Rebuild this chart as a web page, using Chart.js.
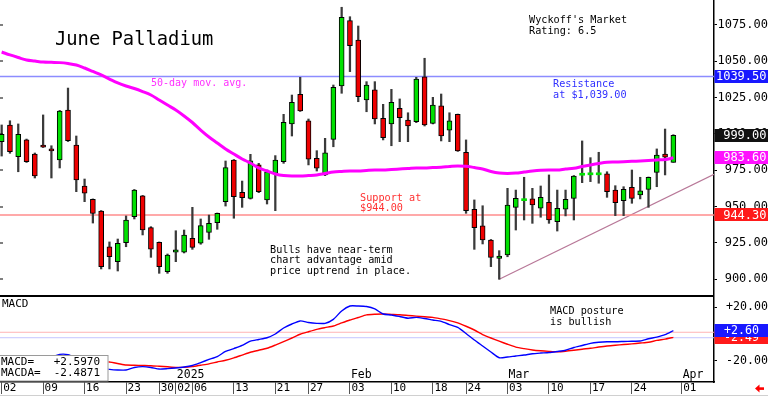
<!DOCTYPE html>
<html>
<head>
<meta charset="utf-8">
<script src="https://cdn.jsdelivr.net/npm/chart.js@4.4.1/dist/chart.umd.min.js"></script>
<style>
  html, body { margin: 0; padding: 0; background: #fff; }
  #wrap { position: relative; width: 768px; height: 397px; overflow: hidden; }
  canvas { position: absolute; left: 0; }
  #price { top: 0; }
  #macd { top: 297px; }
</style>
</head>
<body>
<div id="wrap">
  <canvas id="price" width="768" height="297"></canvas>
  <canvas id="macd" width="768" height="100"></canvas>
</div>
<script>
// Trading days (Dec 2024 - Mar 2025), plus the empty days at the right edge
const dates = [
  '12-02','12-03','12-04','12-05','12-06','12-09','12-10','12-11','12-12','12-13',
  '12-16','12-17','12-18','12-19','12-20','12-23','12-24','12-26','12-27','12-30','12-31',
  '01-02','01-03','01-06','01-07','01-08','01-09','01-10','01-13','01-14','01-15','01-16','01-17',
  '01-21','01-22','01-23','01-24','01-27','01-28','01-29','01-30','01-31',
  '02-03','02-04','02-05','02-06','02-07','02-10','02-11','02-12','02-13','02-14',
  '02-18','02-19','02-20','02-21','02-24','02-25','02-26','02-27','02-28',
  '03-03','03-04','03-05','03-06','03-07','03-10','03-11','03-12','03-13','03-14',
  '03-17','03-18','03-19','03-20','03-21','03-24','03-25','03-26','03-27','03-28','03-31',
  '04-01','04-02','04-03','04-04'
];

const opens = [994.7,1006.2,984.4,995.9,986.2,992.4,989.7,982.1,1016.5,992.4,
  964.2,955.0,947.0,922.4,912.1,925.2,943.1,957.5,935.5,925.5,
  905.2,918.6,918.6,928.2,924.8,932.3,938.9,953.4,982.1,959.9,
  955.7,978.7,954.6,972.9,980.9,1006.9,1027.3,1009.1,983.3,971.8,
  996.3,1033.0,1078.0,1064.7,1023.4,1030.3,1010.8,1006.9,1017.7,1009.6,
  1008.5,1039.4,1007.3,1019.3,1002.7,1013.5,987.4,948.2,936.7,927.0,
  914.4,916.7,949.5,954.1,955.3,948.9,953.0,939.6,948.2,955.7,
  971.6,971.9,971.9,972.5,961.4,954.1,963.3,958.0,961.9,973.6,
  986.2,980.5];
const highs = [1006.2,1009.1,1006.9,996.5,986.9,1013.1,991.9,1016.2,1031.6,998.6,
  969.0,955.3,947.3,925.7,927.7,943.6,961.8,957.7,936.2,925.7,
  917.4,933.4,933.9,949.5,941.5,944.2,945.6,981.4,982.4,967.6,
  986.0,979.8,975.2,985.1,1013.5,1026.8,1039.0,1010.3,988.5,997.0,
  1033.7,1087.2,1080.7,1074.3,1036.0,1036.0,1020.4,1030.7,1024.1,1014.6,
  1039.0,1052.1,1025.2,1027.5,1014.6,1013.7,995.9,954.6,950.6,927.4,
  919.7,962.6,961.4,970.2,962.6,964.2,971.8,961.4,961.4,971.4,
  995.2,983.7,987.4,974.0,964.4,963.7,975.2,970.2,970.4,989.7,
  1003.4,999.5];
const lows = [984.8,986.7,974.0,980.4,969.7,990.7,969.7,976.6,994.8,960.3,
  953.4,938.7,907.1,907.1,905.7,922.4,941.5,930.5,915.1,904.1,
  904.1,912.1,918.1,920.6,924.1,927.5,934.4,950.4,942.0,949.5,
  955.2,959.6,951.8,947.2,979.8,998.6,1015.5,978.7,974.5,971.3,
  991.2,1028.0,1042.9,1022.2,1015.3,1006.9,995.9,991.9,994.7,994.7,
  1007.8,1005.5,1006.9,995.2,994.7,988.0,945.4,920.6,924.3,908.7,
  900.0,915.5,933.9,940.8,938.5,942.7,938.5,933.2,943.6,940.8,
  966.5,967.2,966.1,956.4,943.8,943.8,952.3,955.3,949.5,963.7,
  971.8,980.5];
const closes = [999.8,987.8,999.8,980.9,971.1,991.0,988.3,1015.8,995.4,968.3,
  959.2,945.4,908.7,915.5,924.8,940.8,961.4,933.9,920.8,908.7,
  916.7,920.2,930.5,922.0,936.9,938.5,945.4,976.8,956.8,956.1,
  981.6,960.3,974.0,982.1,1008.0,1021.8,1015.8,982.6,976.4,987.1,
  1032.1,1080.3,1060.8,1025.7,1033.7,1010.3,997.4,1021.8,1011.2,1005.5,
  1037.8,1006.2,1019.9,998.6,1009.1,988.3,947.2,935.5,927.0,915.1,
  916.0,951.1,955.7,954.6,951.1,956.4,940.8,948.9,955.0,971.1,
  972.2,972.5,972.5,960.3,952.7,961.9,955.7,960.8,970.2,985.5,
  984.0,999.0];

// 50-day moving average
const ma50 = [1056.4,1054.4,1052.6,1050.9,1050.2,1049.5,1049.3,1049.1,1048.5,1047.5,
  1045.4,1043.0,1040.6,1037.8,1035.1,1033.0,1031.3,1029.2,1026.8,1023.4,
  1019.9,1016.5,1012.4,1007.9,1002.7,997.9,993.8,989.7,986.2,982.8,
  980.0,976.6,974.5,972.5,971.4,971.1,971.1,971.4,971.8,972.8,
  973.8,974.2,974.5,974.5,974.9,975.2,975.2,975.6,975.9,976.2,
  976.6,976.6,976.9,977.1,977.6,978.0,977.8,976.9,975.9,974.2,
  973.1,972.8,973.1,973.8,974.5,975.0,975.2,975.2,975.9,976.4,
  977.6,978.7,979.7,980.5,980.7,980.9,981.2,981.4,981.7,982.1,
  982.4,983.6];

// MACD (blue) and its signal line MACDA (red)
const macdLine = [-18,-18.5,-19,-19,-18.5,-18,-17.2,-15.3,-15.5,-18,
  -21,-23.3,-25.5,-26.5,-27,-27,-25.1,-24.5,-25.1,-26.3,
  -26,-25.5,-24.8,-23.6,-21.4,-19.1,-16.9,-13.1,-10.9,-8.6,
  -5.3,-4.1,-2.8,0,4.5,7.5,9.8,8.6,8,8,
  11,17.3,21,21,20.6,18.8,15,14.3,13.1,11.8,
  12.5,11.6,10.5,9.5,7.1,4.9,0.4,-4.5,-9,-13.5,
  -17.8,-17.3,-16.5,-15.8,-14.8,-14.3,-13.9,-13.1,-12.2,-10.1,
  -8.6,-7,-6.2,-5.8,-5.8,-5.6,-5.4,-5.3,-3.6,-2.3,
  -0.5,2.597];
const signalLine = [-17,-17.3,-17.6,-17.9,-18.2,-18.4,-18.6,-18.7,-18.9,-19.2,
  -19.6,-20.1,-20.8,-21,-22.1,-23.3,-23.4,-23.6,-23.8,-24.2,
  -24.6,-25,-25,-24.4,-23.4,-22.4,-21,-19.7,-17.9,-15.8,
  -13.7,-12.2,-10.7,-8.3,-5.7,-3,-0.2,1.7,3.5,4.8,
  6,8.3,10.5,12.4,14.3,14.8,15,14.7,14.4,13.9,
  13.4,12.9,12.5,11.3,10,8.3,5.8,3,-0.4,-3,
  -5.4,-7.7,-9.8,-11,-12,-12.6,-13,-13.3,-12.9,-12.2,
  -11.4,-10.7,-9.8,-9,-8.4,-7.9,-7.4,-6.8,-6.2,-4.8,
  -3.8,-2.4871];
const macdRefLevels = [1.3, -2.8];

const resistance = 1039.5;
const support = 944.3;
const trendFrom = { x: 60, y: 900 };
const trendTo = { x: 85.9, y: 972.3 };

const priceTicks = [900, 925, 950, 975, 1000, 1025, 1050, 1075];
const macdTicks = [20, -20];
const weekStarts = ['12-02','12-09','12-16','12-23','12-30','01-02','01-06','01-13','01-21',
  '01-27','02-03','02-10','02-18','02-24','03-03','03-10','03-17','03-24','04-01'];
const monthStarts = ['01-02', '02-03', '03-03', '04-01'];
const monthNames = ['2025', 'Feb', 'Mar', 'Apr'];

const MONO = "'DejaVu Sans Mono', monospace";
const UP = '#00e000', DOWN = '#ee0000';
const X_MIN = -0.2, X_MAX = 85.9;
const last = closes.length - 1;

Chart.defaults.font.family = MONO;

function writeNote(ctx, n) {
  ctx.font = (n.size || 10.2) + 'px ' + MONO;
  ctx.fillStyle = n.color || '#000';
  ctx.textAlign = 'left';
  ctx.textBaseline = 'middle';
  n.lines.forEach((s, k) => ctx.fillText(s, n.x, n.y + k * (n.lh || 10.7)));
}

function flag(ctx, x0, x1, py, text, bg, textRight, size) {
  ctx.fillStyle = bg;
  ctx.fillRect(x0, Math.round(py - 6.5), x1 - x0, 13);
  ctx.fillStyle = '#fff';
  ctx.font = size + 'px ' + MONO;
  ctx.textAlign = 'right';
  ctx.textBaseline = 'middle';
  ctx.fillText(text, textRight, py + 0.5);
}

const signed = v => (v > 0 ? '+' : '') + v.toFixed(2);

// ---------- price panel ----------
const priceNotes = [
  { lines: ['June Palladium'], x: 55, y: 40, size: 18.8 },
  { lines: ['50-day mov. avg.'], x: 151, y: 83, size: 10, color: '#ff30ff' },
  { lines: ["Wyckoff's Market", 'Rating: 6.5'], x: 529, y: 20.7, lh: 10.5 },
  { lines: ['Resistance', 'at $1,039.00'], x: 553, y: 84.3, color: '#3030ff' },
  { lines: ['Support at', '$944.00'], x: 360, y: 198.3, color: '#ff3030', lh: 10.2 },
  { lines: ['Bulls have near-term', 'chart advantage amid', 'price uptrend in place.'], x: 270, y: 250 }
];

const pricePanel = {
  id: 'pricePanel',
  afterDraw(chart) {
    const { ctx, chartArea: a, scales: { y } } = chart;
    ctx.save();
    ctx.fillStyle = '#000';
    priceTicks.forEach(v => ctx.fillRect(0, Math.round(y.getPixelForValue(v)) - 0.5, 3, 1));
    ctx.fillRect(0, 295, a.right, 2);
    priceNotes.forEach(n => writeNote(ctx, n));
    const flags = [
      { value: resistance, bg: '#1818ff' },
      { value: closes[last], bg: '#111' },
      { value: ma50[last], bg: '#ff10ff' },
      { value: support, bg: '#ff1a1a' }
    ];
    flags.forEach(f => flag(ctx, a.right + 0.5, chart.width, y.getPixelForValue(f.value),
      f.value.toFixed(2), f.bg, chart.width - 1.5, 12));
    ctx.restore();
  }
};

new Chart(document.getElementById('price'), {
  type: 'bar',
  data: {
    datasets: [
      {
        type: 'line', label: '50-day mov. avg.',
        data: ma50.map((v, i) => ({ x: i, y: v })),
        borderColor: '#ff00ff', borderWidth: 3, pointRadius: 0,
        cubicInterpolationMode: 'monotone', order: 0
      },
      {
        label: 'body',
        data: opens.map((o, i) => ({ x: i, y: [o, closes[i]] })),
        backgroundColor: c => closes[c.dataIndex] >= opens[c.dataIndex] ? UP : DOWN,
        borderColor: '#000',
        borderWidth: c => Math.abs(closes[c.dataIndex] - opens[c.dataIndex]) < 1 ? 0 : 1,
        borderSkipped: false, barThickness: 5, minBarLength: 2, grouped: false, order: 1
      },
      {
        label: 'wick',
        data: lows.map((l, i) => ({ x: i, y: [l, highs[i]] })),
        backgroundColor: '#3a3a3a', barThickness: 1.6, grouped: false, order: 2
      },
      {
        type: 'line', label: 'resistance',
        data: [{ x: X_MIN, y: resistance }, { x: X_MAX, y: resistance }],
        borderColor: '#8c8cff', borderWidth: 1.5, pointRadius: 0, order: 3
      },
      {
        type: 'line', label: 'support',
        data: [{ x: X_MIN, y: support }, { x: X_MAX, y: support }],
        borderColor: '#ff8c8c', borderWidth: 1.5, pointRadius: 0, order: 3
      },
      {
        type: 'line', label: 'uptrend',
        data: [trendFrom, trendTo],
        borderColor: '#b87898', borderWidth: 1.2, pointRadius: 0, order: 3
      }
    ]
  },
  options: {
    responsive: false,
    animation: false,
    events: [],
    layout: { padding: 0 },
    plugins: { legend: { display: false }, tooltip: { enabled: false } },
    scales: {
      x: { type: 'linear', min: X_MIN, max: X_MAX, offset: false, display: false },
      y: {
        position: 'right', min: 887.8, max: 1092.2,
        afterBuildTicks: s => { s.ticks = priceTicks.map(v => ({ value: v })); },
        afterFit: s => { s.width = 54; s.paddingTop = 0; s.paddingBottom = 0; },
        ticks: { callback: v => v.toFixed(2), font: { family: MONO, size: 12 }, color: '#000',
          padding: -1, crossAlign: 'far' },
        grid: { drawOnChartArea: false, tickLength: 3, color: '#000' },
        border: { color: '#000', width: 1.5 }
      }
    }
  },
  plugins: [pricePanel]
});

// ---------- MACD panel ----------
const macdPanel = {
  id: 'macdPanel',
  afterDraw(chart) {
    const { ctx, chartArea: a, scales: { x, y } } = chart;
    ctx.save();
    ctx.font = '11.5px ' + MONO;
    ctx.fillStyle = '#000';
    ctx.textAlign = 'left';
    ctx.textBaseline = 'middle';
    monthStarts.forEach((d, k) => ctx.fillText(monthNames[k], x.getPixelForValue(dates.indexOf(d)) + 1, 78));
    writeNote(ctx, { lines: ['MACD'], x: 2, y: 7.5, size: 11 });
    writeNote(ctx, { lines: ['MACD posture', 'is bullish'], x: 550, y: 14.7, lh: 10.6 });

    // value legend
    ctx.fillStyle = '#fff';
    ctx.fillRect(-1, 58.5, 109.5, 25.5);
    ctx.strokeStyle = '#9a9a9a';
    ctx.lineWidth = 1;
    ctx.strokeRect(-0.5, 58.5, 108.5, 25.5);
    ctx.font = '11px ' + MONO;
    ctx.fillStyle = '#000';
    ctx.textAlign = 'left';
    ctx.fillText('MACD=', 1, 65);
    ctx.fillText('MACDA=', 1, 76.5);
    ctx.textAlign = 'right';
    const fmt4 = v => (v > 0 ? '+' : '') + v.toFixed(4);
    ctx.fillText(fmt4(macdLine[last]), 100, 65);
    ctx.fillText(fmt4(signalLine[last]), 100, 76.5);

    flag(ctx, a.right + 0.5, chart.width, y.getPixelForValue(signalLine[last]),
      signed(signalLine[last]), '#ff1a1a', 759, 11.6);
    flag(ctx, a.right + 0.5, chart.width, y.getPixelForValue(macdLine[last]),
      signed(macdLine[last]), '#1818ff', 759, 11.6);

    // bottom rule and scroll arrow
    ctx.fillStyle = '#d0d0d0';
    ctx.fillRect(0, 98, chart.width, 1);
    ctx.fillStyle = '#ff0000';
    ctx.beginPath();
    ctx.moveTo(755, 91.5); ctx.lineTo(759.5, 87.5); ctx.lineTo(759.5, 95.5); ctx.closePath();
    ctx.fill();
    ctx.fillRect(759, 90.3, 5, 2.6);
    ctx.restore();
  }
};

new Chart(document.getElementById('macd'), {
  type: 'line',
  data: {
    datasets: [
      {
        label: 'MACD', data: macdLine.map((v, i) => ({ x: i, y: v })),
        borderColor: '#0000ff', borderWidth: 1.4, pointRadius: 0, tension: 0.2, order: 0
      },
      {
        label: 'MACDA', data: signalLine.map((v, i) => ({ x: i, y: v })),
        borderColor: '#ff0000', borderWidth: 1.4, pointRadius: 0, tension: 0.2, order: 1
      },
      {
        label: 'ref1', data: [{ x: X_MIN, y: macdRefLevels[0] }, { x: X_MAX, y: macdRefLevels[0] }],
        borderColor: '#ffb4b4', borderWidth: 1, pointRadius: 0, order: 2
      },
      {
        label: 'ref2', data: [{ x: X_MIN, y: macdRefLevels[1] }, { x: X_MAX, y: macdRefLevels[1] }],
        borderColor: '#c4c4ff', borderWidth: 1, pointRadius: 0, order: 2
      }
    ]
  },
  options: {
    responsive: false,
    animation: false,
    events: [],
    layout: { padding: 0 },
    plugins: { legend: { display: false }, tooltip: { enabled: false } },
    scales: {
      x: {
        type: 'linear', min: X_MIN, max: X_MAX, offset: false, position: 'bottom',
        afterBuildTicks: s => { s.ticks = weekStarts.map(d => ({ value: dates.indexOf(d) })); },
        afterFit: s => { s.height = 15; s.paddingLeft = 0; s.paddingRight = 0; },
        ticks: {
          callback: v => dates[v].slice(3), autoSkip: false, maxRotation: 0, minRotation: 0,
          align: 'start', padding: -12, labelOffset: 1.5,
          font: { family: MONO, size: 11 }, color: '#000'
        },
        grid: { drawOnChartArea: false, tickLength: 12, color: '#555' },
        border: { color: '#000', width: 1.5 }
      },
      y: {
        position: 'right', min: -36, max: 27.75,
        afterBuildTicks: s => { s.ticks = macdTicks.map(v => ({ value: v })); },
        afterFit: s => { s.width = 54; s.paddingTop = 0; s.paddingBottom = 0; },
        ticks: { callback: v => signed(v), font: { family: MONO, size: 11.6 }, color: '#000',
          padding: 0, crossAlign: 'far' },
        grid: { drawOnChartArea: false, tickLength: 3, color: '#000' },
        border: { color: '#000', width: 1.5 }
      }
    }
  },
  plugins: [macdPanel]
});
</script>
</body>
</html>
